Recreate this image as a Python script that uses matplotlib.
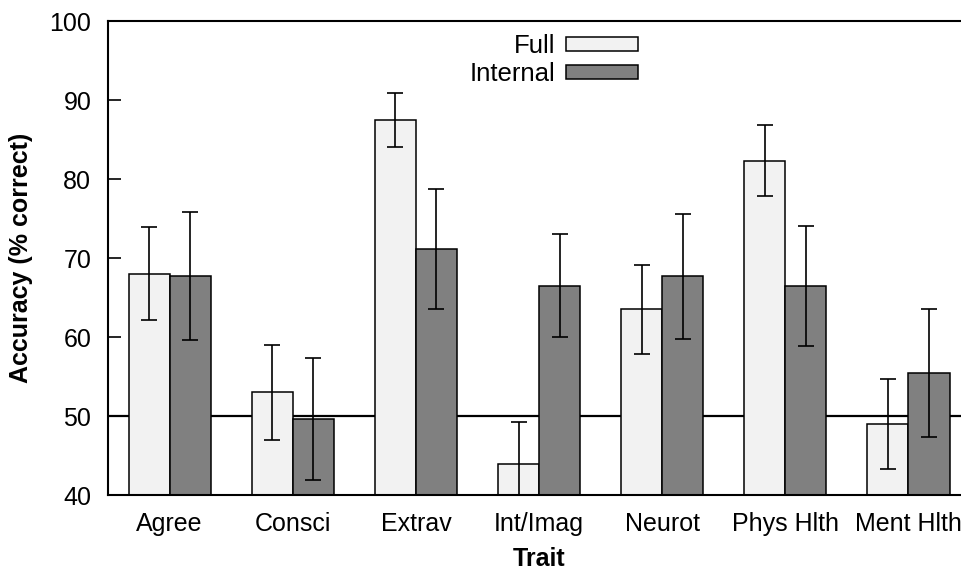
import numpy as np
import matplotlib
matplotlib.use("Agg")
import matplotlib.pyplot as plt

plt.rcParams['font.family'] = ['Liberation Sans', 'DejaVu Sans']

# Data
traits = ['Agree', 'Consci', 'Extrav', 'Int/Imag', 'Neurot', 'Phys Hlth', 'Ment Hlth']
full = [68.0, 53.0, 87.5, 43.9, 63.5, 82.3, 49.0]
full_err = [5.9, 6.0, 3.4, 5.4, 5.6, 4.5, 5.7]
internal = [67.7, 49.6, 71.2, 66.5, 67.7, 66.5, 55.5]
internal_err = [8.1, 7.7, 7.6, 6.5, 7.9, 7.6, 8.1]
chance = 50

fig = plt.figure(figsize=(9.61, 5.69), dpi=100)
ax = fig.add_axes([0.1124, 0.130, 0.897, 0.833])

x = np.arange(len(traits))
w = 1 / 3

ax.axhline(chance, color='black', lw=1.6, zorder=1)

err_kw = dict(ecolor='black', elinewidth=1.2, capsize=5.5, capthick=1.2)
ax.bar(x - w / 2, full, w, color='#f2f2f2', edgecolor='black',
       linewidth=1.1, yerr=full_err, error_kw=err_kw, label='Full', zorder=2)
ax.bar(x + w / 2, internal, w, color='#808080', edgecolor='black',
       linewidth=1.1, yerr=internal_err, error_kw=err_kw, label='Internal', zorder=2)

ax.set_xlim(-0.5, len(traits) - 0.5)
ax.set_ylim(40, 100)
ax.set_yticks(np.arange(40, 101, 10))
ax.set_xticks(x)
ax.set_xticklabels(traits)

ax.tick_params(axis='y', direction='in', length=9, width=1.2, pad=12, labelsize=18)
ax.tick_params(axis='x', length=0, pad=12, labelsize=18)
for s in ['top', 'left', 'bottom']:
    ax.spines[s].set_linewidth(1.5)
ax.spines['right'].set_visible(False)

ax.set_xlabel('Trait', fontsize=18, fontweight='bold', labelpad=8)
ax.set_ylabel('Accuracy (% correct)', fontsize=18, fontweight='bold', labelpad=12)

ax.legend(loc='upper center', bbox_to_anchor=(0.517, 1.005), frameon=False,
          markerfirst=False, fontsize=18.5, handlelength=2.8, handleheight=0.5,
          labelspacing=0.15, handletextpad=0.4, borderaxespad=0.2)

fig.savefig('out.png', dpi=100)
